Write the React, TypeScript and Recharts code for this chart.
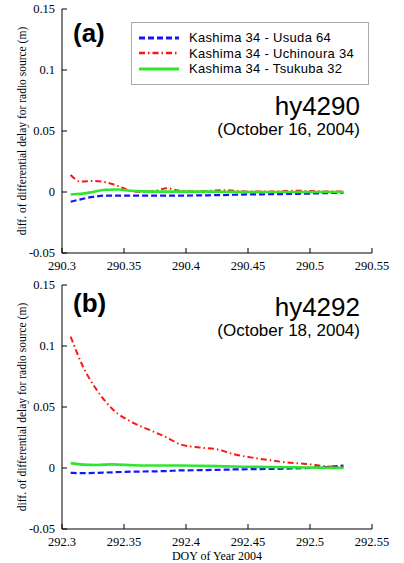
import React from "react";
import { Legend, Line, LineChart, XAxis, YAxis } from "recharts";

// panel (a) hy4290 — DOY sample points and differential delay diffs (m)
const doyA = [290.307, 290.315, 290.325, 290.335, 290.345, 290.355, 290.365, 290.375, 290.385, 290.395, 290.41, 290.43, 290.45, 290.47, 290.49, 290.51, 290.527];
const usudaA = [-0.008, -0.006, -0.004, -0.003, -0.003, -0.003, -0.003, -0.003, -0.003, -0.003, -0.0028, -0.0025, -0.002, -0.0018, -0.0015, -0.001, -0.0005];
const uchinouraA = [0.014, 0.0085, 0.009, 0.008, 0.005, 0.001, 0.0, 0.001, 0.003, 0.001, 0.0005, 0.0015, 0.0005, 0.0005, 0.001, 0.0005, 0.0003];
const tsukubaA = [-0.002, -0.0015, 0.0, 0.0018, 0.002, 0.001, 0.0005, 0.0003, 0.0003, 0.0003, 0.0003, 0.0002, 0.0, 0.0, 0.0, 0.0, 0.0];

// panel (b) hy4292
const doyB = [292.307, 292.317, 292.328, 292.341, 292.3575, 292.371, 292.3845, 292.395, 292.411, 292.425, 292.438, 292.452, 292.465, 292.481, 292.497, 292.513, 292.527];
const usudaB = [-0.004, -0.0042, -0.004, -0.0035, -0.003, -0.0028, -0.0025, -0.002, -0.0018, -0.0015, -0.0012, -0.001, -0.0008, -0.0005, 0.0, 0.0008, 0.002];
const uchinouraB = [0.1076, 0.083, 0.064, 0.048, 0.037, 0.031, 0.025, 0.0195, 0.0168, 0.0154, 0.0114, 0.0087, 0.0068, 0.0046, 0.0033, 0.0014, 0.0005];
const tsukubaB = [0.004, 0.0028, 0.0025, 0.003, 0.0022, 0.002, 0.002, 0.002, 0.0018, 0.0015, 0.0012, 0.001, 0.0008, 0.0006, 0.0004, 0.0002, 0.0];

const xTicksA = [290.3, 290.35, 290.4, 290.45, 290.5, 290.55];
const xTicksB = [292.3, 292.35, 292.4, 292.45, 292.5, 292.55];
const yTicks = [-0.05, 0, 0.05, 0.1, 0.15];

const seriesNames = ["Kashima 34 - Usuda 64", "Kashima 34 - Uchinoura 34", "Kashima 34 - Tsukuba 32"];

const serif = "Liberation Serif, Times New Roman, serif";
const sans = "Liberation Sans, Arial, Helvetica, sans-serif";

const styles = [
  { key: "usuda", color: "#1414ff", dash: "6 3", width: 2.2 },
  { key: "uchinoura", color: "#ff1414", dash: "6 3 1.5 3", width: 2 },
  { key: "tsukuba", color: "#2ee62e", dash: undefined, width: 2.6 },
];

const blank = () => "";

// serif tick text, drawn at the position recharts hands over
function SerifTick(props: any) {
  const { x, y, payload, orientation } = props;
  const label = String(Number(Number(payload.value).toFixed(2)));
  const bottom = orientation === "bottom";
  return (
    <text
      x={x}
      y={y}
      dy={bottom ? "0.71em" : "0.355em"}
      textAnchor={bottom ? "middle" : "end"}
      fill="#000"
      fontSize={12.5}
      fontFamily={serif}
    >
      {label}
    </text>
  );
}

function LegendBox() {
  return (
    <div
      style={{
        width: 236,
        height: 61,
        border: "1px solid #aaa",
        background: "#fff",
        fontFamily: sans,
        fontSize: 13,
        position: "relative",
      }}
    >
      {styles.map((s, i) => (
        <div key={s.key} style={{ position: "absolute", left: 6, top: 7 + i * 15.5, height: 15, display: "flex", alignItems: "center" }}>
          <svg width={42} height={8}>
            <line x1={1} y1={4} x2={41} y2={4} stroke={s.color} strokeWidth={s.width + 0.6} strokeDasharray={s.dash} />
          </svg>
          <span style={{ marginLeft: 9, color: "#000", letterSpacing: 0.3 }}>{seriesNames[i]}</span>
        </div>
      ))}
    </div>
  );
}

type PanelProps = {
  doy: number[];
  usuda: number[];
  uchinoura: number[];
  tsukuba: number[];
  xTicks: number[];
  height: number;
  top: number;
  marginTop: number;
  xAxisHeight: number;
  tag: string;
  session: string;
  date: string;
  tagY: number;
  sessionY: number;
  dateY: number;
  showLegend: boolean;
  xLabel?: string;
};

function Panel(p: PanelProps) {
  const rows = p.doy.map((x, i) => ({ x, usuda: p.usuda[i], uchinoura: p.uchinoura[i], tsukuba: p.tsukuba[i] }));
  const domain: [number, number] = [p.xTicks[0], p.xTicks[p.xTicks.length - 1]];
  return (
    <div style={{ position: "absolute", left: 0, top: p.top, width: 404, height: p.height }}>
      <LineChart
        width={404}
        height={p.height}
        data={rows}
        margin={{ top: p.marginTop, right: 32, bottom: p.height - p.marginTop - 244 - p.xAxisHeight, left: 12 }}
      >
        <XAxis
          xAxisId="b"
          dataKey="x"
          type="number"
          domain={domain}
          ticks={p.xTicks}
          height={p.xAxisHeight}
          tickSize={-5}
          tickMargin={13}
          stroke="#000"
          tick={<SerifTick orientation="bottom" />}
          allowDataOverflow
          label={p.xLabel ? { value: p.xLabel, position: "insideBottom", offset: 3, fill: "#000", fontSize: 12, fontFamily: serif } : undefined}
        />
        <XAxis xAxisId="t" dataKey="x" type="number" orientation="top" domain={domain} ticks={p.xTicks} tickFormatter={blank} height={0} tickSize={-5} stroke="#000" />
        <YAxis
          yAxisId="l"
          type="number"
          domain={[-0.05, 0.15]}
          ticks={yTicks}
          width={50}
          tickSize={-5}
          tickMargin={12}
          stroke="#000"
          tick={<SerifTick orientation="left" />}
          label={{
            value: "diff. of differential delay for radio source (m)",
            angle: -90,
            position: "center",
            dx: -15,
            fill: "#000",
            fontSize: 11.5,
            fontFamily: serif,
          }}
        />
        <YAxis yAxisId="r" type="number" orientation="right" domain={[-0.05, 0.15]} ticks={yTicks} width={0} tickSize={-5} stroke="#000" tickFormatter={blank} />
        {p.showLegend && (
          <Legend
            layout="vertical"
            align="center"
            verticalAlign="middle"
            content={() => <LegendBox />}
            wrapperStyle={{ position: "absolute", left: 131, top: 22, width: 238, height: 63 }}
          />
        )}
        {styles.map((s) => (
          <Line
            key={s.key}
            xAxisId="b"
            yAxisId="l"
            type="monotone"
            dataKey={s.key}
            stroke={s.color}
            strokeWidth={s.width}
            strokeDasharray={s.dash}
            dot={false}
            isAnimationActive={false}
          />
        ))}
      </LineChart>
      <div style={{ position: "absolute", left: 73, top: p.tagY - 14, fontFamily: sans, fontWeight: "bold", fontSize: 26, lineHeight: "28px" }}>
        {p.tag}
      </div>
      <div style={{ position: "absolute", right: 44, top: p.sessionY - 15, fontFamily: sans, fontSize: 26, lineHeight: "30px" }}>
        {p.session}
      </div>
      <div style={{ position: "absolute", right: 44, top: p.dateY - 10, fontFamily: sans, fontSize: 17, lineHeight: "20px" }}>
        {p.date}
      </div>
    </div>
  );
}

export default function App() {
  return (
    <div style={{ position: "absolute", left: 0, top: 0, width: 404, height: 563, background: "#fff" }}>
      <Panel
        doy={doyA}
        usuda={usudaA}
        uchinoura={uchinouraA}
        tsukuba={tsukubaA}
        xTicks={xTicksA}
        height={280}
        top={0}
        marginTop={9}
        xAxisHeight={20}
        tag="(a)"
        session="hy4290"
        date="(October 16, 2004)"
        tagY={33}
        sessionY={106}
        dateY={130}
        showLegend
      />
      <Panel
        doy={doyB}
        usuda={usudaB}
        uchinoura={uchinouraB}
        tsukuba={tsukubaB}
        xTicks={xTicksB}
        height={293}
        top={270}
        marginTop={15}
        xAxisHeight={34}
        tag="(b)"
        session="hy4292"
        date="(October 18, 2004)"
        tagY={33}
        sessionY={37}
        dateY={61}
        showLegend={false}
        xLabel="DOY of Year 2004"
      />
    </div>
  );
}
